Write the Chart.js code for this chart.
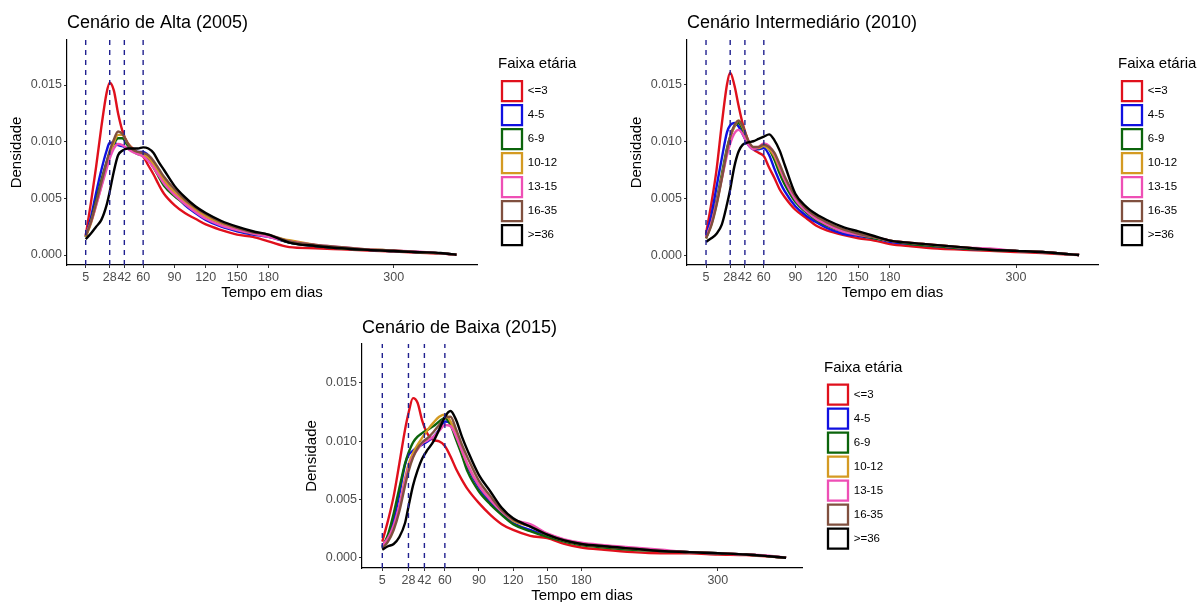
<!DOCTYPE html>
<html>
<head>
<meta charset="utf-8">
<script src="https://cdn.jsdelivr.net/npm/chart.js@4.4.1/dist/chart.umd.min.js"></script>
<style>
  html, body { margin: 0; padding: 0; background: #fff; overflow: hidden; width: 1201px; height: 602px; }
  canvas { position: absolute; }
</style>
</head>
<body>
<canvas id="p1" width="600" height="302" data-lw="100" style="left:0px;top:0px"></canvas>
<canvas id="p2" width="600" height="302" data-lw="100" style="left:620px;top:0px"></canvas>
<canvas id="p3" width="640" height="301" data-lw="100" style="left:295px;top:304px"></canvas>
<script>
// days where the density curves are read
const days = [5, 10, 15, 20, 25, 28, 32, 36, 40, 45, 50, 55, 60, 65, 70, 75, 80, 90, 100, 110, 120, 135, 150, 165, 180, 200, 225, 250, 275, 300, 325, 345, 360];

const groups = ['<=3', '4-5', '6-9', '10-12', '13-15', '16-35', '>=36'];
const groupColors = ['#e0101c', '#1010e0', '#0b640b', '#d49a22', '#ee4fb5', '#80503f', '#000000'];

const cutoffs = [5, 28, 42, 60];
const xTicks = [5, 28, 42, 60, 90, 120, 150, 180, 300];
const yTicks = [0, 0.005, 0.010, 0.015];

// Cenário de Alta (2005)
const alta_le3   = [0.0017,0.0046,0.0078,0.0113,0.0143,0.0152,0.0145,0.0125,0.0110,0.0099,0.0094,0.0090,0.0087,0.0079,0.0071,0.0062,0.0054,0.0044,0.0037,0.0032,0.0027,0.0022,0.0018,0.0016,0.0012,0.0007,0.0006,0.0005,0.0004,0.0003,0.0002,0.00012,0.00003];
const alta_4_5   = [0.0016,0.0033,0.0055,0.0075,0.0092,0.0099,0.0099,0.0097,0.0096,0.0094,0.0092,0.0091,0.0091,0.0088,0.0082,0.0074,0.0066,0.0054,0.0044,0.0037,0.0031,0.0025,0.0021,0.0018,0.0016,0.0011,0.0008,0.0006,0.00045,0.00035,0.00025,0.00015,0.00003];
const alta_6_9   = [0.0016,0.0030,0.0048,0.0066,0.0082,0.0090,0.0098,0.0103,0.0103,0.0097,0.0092,0.0089,0.0088,0.0084,0.0077,0.0069,0.0061,0.0052,0.0045,0.0039,0.0033,0.0027,0.0022,0.0019,0.0017,0.0011,0.0008,0.0006,0.00045,0.00035,0.00025,0.00015,0.00003];
const alta_10_12 = [0.0016,0.0028,0.0044,0.0061,0.0079,0.0088,0.0099,0.0106,0.0106,0.0099,0.0093,0.0090,0.0088,0.0086,0.0080,0.0073,0.0066,0.0055,0.0047,0.0040,0.0034,0.0028,0.0023,0.0020,0.0017,0.0013,0.0009,0.0006,0.0005,0.0004,0.00025,0.00015,0.00003];
const alta_13_15 = [0.0018,0.0029,0.0044,0.0060,0.0076,0.0085,0.0094,0.0098,0.0097,0.0094,0.0091,0.0089,0.0087,0.0083,0.0077,0.0070,0.0063,0.0053,0.0045,0.0038,0.0032,0.0026,0.0022,0.0019,0.0016,0.0012,0.0009,0.0007,0.0005,0.0004,0.0003,0.00015,0.00003];
const alta_16_35 = [0.0017,0.0029,0.0046,0.0064,0.0082,0.0092,0.0102,0.0109,0.0107,0.0099,0.0093,0.0091,0.0090,0.0088,0.0083,0.0076,0.0069,0.0058,0.0049,0.0042,0.0036,0.0029,0.0024,0.0020,0.0018,0.0012,0.0009,0.0007,0.0005,0.0004,0.00025,0.00015,0.00003];
const alta_ge36  = [0.0014,0.0019,0.0025,0.0031,0.0044,0.0056,0.0074,0.0088,0.0092,0.0094,0.0094,0.0094,0.0095,0.0094,0.0090,0.0082,0.0075,0.0061,0.0051,0.0043,0.0037,0.0030,0.0025,0.0021,0.0018,0.0011,0.0008,0.0006,0.00045,0.00035,0.00025,0.00018,0.00003];

// Cenário Intermediário (2010)
const inter_le3   = [0.0019,0.0045,0.0075,0.0115,0.0150,0.0160,0.0149,0.0131,0.0115,0.0101,0.0093,0.0090,0.0087,0.0077,0.0068,0.0058,0.0051,0.0040,0.0033,0.0026,0.0022,0.0018,0.0015,0.0013,0.0010,0.0008,0.0006,0.0005,0.0004,0.0003,0.0002,0.0001,0.00003];
const inter_4_5   = [0.0017,0.0035,0.0060,0.0085,0.0108,0.0114,0.0116,0.0113,0.0106,0.0097,0.0093,0.0093,0.0094,0.0088,0.0076,0.0065,0.0056,0.0043,0.0035,0.0029,0.0024,0.0019,0.0017,0.0015,0.0012,0.0010,0.0008,0.0006,0.0005,0.0004,0.0003,0.00015,0.00003];
const inter_6_9   = [0.0015,0.0028,0.0048,0.0071,0.0094,0.0104,0.0113,0.0116,0.0110,0.0100,0.0094,0.0094,0.0096,0.0093,0.0084,0.0072,0.0062,0.0047,0.0038,0.0031,0.0026,0.0021,0.0018,0.0015,0.0013,0.0010,0.0008,0.0006,0.0005,0.0004,0.0003,0.00015,0.00003];
const inter_10_12 = [0.0015,0.0027,0.0045,0.0068,0.0092,0.0103,0.0113,0.0118,0.0112,0.0100,0.0094,0.0094,0.0096,0.0093,0.0087,0.0076,0.0066,0.0050,0.0040,0.0033,0.0028,0.0022,0.0019,0.0016,0.0013,0.0011,0.0009,0.0007,0.0005,0.0004,0.0003,0.00015,0.00003];
const inter_13_15 = [0.0016,0.0028,0.0046,0.0067,0.0088,0.0098,0.0107,0.0110,0.0106,0.0097,0.0093,0.0095,0.0098,0.0096,0.0089,0.0078,0.0066,0.0049,0.0039,0.0032,0.0027,0.0021,0.0018,0.0016,0.0013,0.0011,0.0009,0.0007,0.0006,0.0004,0.0003,0.00015,0.00003];
const inter_16_35 = [0.0015,0.0026,0.0044,0.0067,0.0092,0.0104,0.0114,0.0118,0.0113,0.0101,0.0095,0.0095,0.0097,0.0095,0.0090,0.0080,0.0069,0.0052,0.0041,0.0034,0.0029,0.0023,0.0019,0.0016,0.0013,0.0011,0.0009,0.0007,0.0005,0.0004,0.0003,0.00015,0.00003];
const inter_ge36  = [0.0012,0.0015,0.0019,0.0027,0.0045,0.0058,0.0078,0.0091,0.0097,0.0099,0.0100,0.0102,0.0104,0.0106,0.0101,0.0092,0.0079,0.0054,0.0043,0.0036,0.0031,0.0025,0.0021,0.0017,0.0013,0.0011,0.0009,0.0007,0.0005,0.0004,0.0003,0.00015,0.00003];

// Cenário de Baixa (2015)
const baixa_le3   = [0.0014,0.0032,0.0053,0.0081,0.0110,0.0124,0.0137,0.0133,0.0118,0.0106,0.0101,0.0100,0.0096,0.0087,0.0076,0.0067,0.0059,0.0047,0.0037,0.0029,0.0024,0.0019,0.0017,0.0012,0.0009,0.0007,0.0005,0.0004,0.0004,0.0003,0.00025,0.00012,0.00002];
const baixa_4_5   = [0.0010,0.0018,0.0032,0.0055,0.0080,0.0088,0.0092,0.0095,0.0097,0.0100,0.0104,0.0110,0.0117,0.0116,0.0104,0.0090,0.0078,0.0060,0.0048,0.0038,0.0030,0.0024,0.0019,0.0015,0.0012,0.0010,0.0008,0.0006,0.0005,0.0004,0.0003,0.00015,0.00002];
const baixa_6_9   = [0.0009,0.0020,0.0038,0.0060,0.0081,0.0090,0.0099,0.0104,0.0107,0.0110,0.0113,0.0117,0.0120,0.0114,0.0101,0.0088,0.0074,0.0057,0.0046,0.0037,0.0029,0.0023,0.0018,0.0014,0.0011,0.0009,0.0007,0.0006,0.0005,0.0004,0.0003,0.00015,0.00002];
const baixa_10_12 = [0.0009,0.0015,0.0026,0.0044,0.0068,0.0080,0.0090,0.0097,0.0103,0.0110,0.0116,0.0121,0.0123,0.0117,0.0105,0.0092,0.0080,0.0062,0.0050,0.0040,0.0032,0.0027,0.0020,0.0015,0.0012,0.0010,0.0008,0.0006,0.0005,0.0004,0.0003,0.00015,0.00002];
const baixa_13_15 = [0.0011,0.0017,0.0028,0.0045,0.0066,0.0077,0.0087,0.0093,0.0098,0.0101,0.0104,0.0109,0.0114,0.0113,0.0104,0.0092,0.0080,0.0062,0.0050,0.0040,0.0033,0.0029,0.0021,0.0016,0.0013,0.0011,0.0009,0.0007,0.0005,0.0004,0.0003,0.0002,0.00002];
const baixa_16_35 = [0.0008,0.0014,0.0024,0.0040,0.0062,0.0074,0.0086,0.0094,0.0099,0.0103,0.0108,0.0114,0.0120,0.0121,0.0110,0.0097,0.0086,0.0066,0.0053,0.0041,0.0033,0.0027,0.0020,0.0015,0.0012,0.0010,0.0008,0.0006,0.0005,0.0004,0.0003,0.00015,0.00002];
const baixa_ge36  = [0.0007,0.0010,0.0012,0.0018,0.0030,0.0044,0.0062,0.0075,0.0085,0.0093,0.0100,0.0110,0.0121,0.0126,0.0118,0.0104,0.0092,0.0071,0.0057,0.0043,0.0034,0.0027,0.0020,0.0015,0.0012,0.0010,0.0008,0.0006,0.0005,0.0004,0.0003,0.00015,0.00002];

Chart.defaults.font.family = "'Liberation Sans', Arial, sans-serif";
Chart.defaults.animation = false;

// the legend box is clipped to its own width, which ignores the title width;
// widen it to the value given on the canvas so "Faixa etária" is not cut
const LegendElement = Chart.registry.getPlugin('legend')._element;
const legendFit = LegendElement.prototype.fit;
LegendElement.prototype.fit = function () {
  legendFit.call(this);
  const lw = Number(this.chart.canvas.dataset.lw);
  if (this.options.display && lw) this.width = lw;
};

function makePanel(id, title, series, o) {
  const curves = series.map((vals, i) => ({
    label: groups[i],
    data: days.map((d, k) => ({ x: d, y: vals[k] })),
    borderColor: groupColors[i],
    borderWidth: 2.4,
    pointRadius: 0,
    fill: false,
    cubicInterpolationMode: 'monotone',
    order: series.length - i   // black drawn last, like ggplot
  }));
  const vlines = cutoffs.map(c => ({
    label: 'corte ' + c,
    data: [{ x: c, y: o.yMin }, { x: c, y: o.yMax }],
    borderColor: '#20208f',
    borderWidth: 1.4,
    borderDash: [5, 5],
    pointRadius: 0,
    order: -1
  }));

  return new Chart(document.getElementById(id), {
    type: 'line',
    data: { datasets: curves.concat(vlines) },
    options: {
      responsive: false,
      devicePixelRatio: 1,
      layout: { padding: { left: 0, right: o.padR, top: 0, bottom: 0 } },
      scales: {
        x: {
          type: 'linear',
          min: o.xMin,
          max: o.xMax,
          afterBuildTicks: s => { s.ticks = xTicks.map(v => ({ value: v })); },
          afterFit: s => { s.height = 37; },
          grid: { drawOnChartArea: false, tickLength: 3, color: '#333', lineWidth: 1 },
          border: { display: true, color: '#000', width: 1.2 },
          ticks: { autoSkip: false, maxRotation: 0, minRotation: 0, padding: 2,
                   color: '#4d4d4d', font: { size: 12.5 }, callback: v => String(v) },
          title: { display: true, text: 'Tempo em dias', color: '#000',
                   font: { size: 15 }, padding: { top: 0, bottom: 0.5 } }
        },
        y: {
          type: 'linear',
          position: 'left',
          min: o.yMin,
          max: o.yMax,
          afterBuildTicks: s => { s.ticks = yTicks.map(v => ({ value: v })); },
          afterFit: s => { s.width = 67; },
          grid: { drawOnChartArea: false, tickLength: 3, color: '#333', lineWidth: 1 },
          border: { display: true, color: '#000', width: 1.2 },
          ticks: { padding: 2, color: '#4d4d4d', font: { size: 12.5 }, callback: v => v.toFixed(3) },
          title: { display: true, text: 'Densidade', color: '#000',
                   font: { size: 15 }, padding: { top: 8, bottom: 0 } }
        },
        // empty axis that only keeps the gap between panel and legend
        gap: {
          type: 'linear',
          position: 'right',
          display: true,
          grid: { display: false },
          border: { display: false },
          ticks: { display: false },
          afterFit: s => { s.width = o.gap; }
        }
      },
      plugins: {
        title: {
          display: true,
          text: title,
          align: 'start',
          fullSize: false,
          color: '#000',
          font: { size: 18, weight: 'normal' },
          padding: { top: o.titleTop, bottom: 40 - o.titleTop - 21.6 }
        },
        legend: {
          display: true,
          position: 'right',
          align: 'center',
          title: { display: true, text: 'Faixa etária', position: 'start', color: '#000',
                   font: { size: 15 }, padding: { top: 4, bottom: 2.4 } },
          labels: {
            boxWidth: 20,
            boxHeight: 20,
            padding: 4,
            color: '#1a1a1a',
            font: { size: 11.5 },
            generateLabels: () => groups.map((g, i) => ({
              text: g,
              fillStyle: '#ffffff',
              strokeStyle: groupColors[i],
              lineWidth: 2.3,
              hidden: false,
              datasetIndex: i
            }))
          }
        },
        tooltip: { enabled: false }
      }
    }
  });
}

makePanel('p1', 'Cenário de Alta (2005)',
  [alta_le3, alta_4_5, alta_6_9, alta_10_12, alta_13_15, alta_16_35, alta_ge36],
  { xMin: -12.9, xMax: 379.7, yMin: -0.00088, yMax: 0.01897, gap: 21, padR: 2, titleTop: 12 });

makePanel('p2', 'Cenário Intermediário (2010)',
  [inter_le3, inter_4_5, inter_6_9, inter_10_12, inter_13_15, inter_16_35, inter_ge36],
  { xMin: -13.1, xMax: 378, yMin: -0.00084, yMax: 0.01887, gap: 20, padR: 2, titleTop: 12 });

makePanel('p3', 'Cenário de Baixa (2015)',
  [baixa_le3, baixa_4_5, baixa_6_9, baixa_10_12, baixa_13_15, baixa_16_35, baixa_ge36],
  { xMin: -12.85, xMax: 374, yMin: -0.00086, yMax: 0.01834, gap: 22, padR: 11, titleTop: 13 });
</script>
</body>
</html>
